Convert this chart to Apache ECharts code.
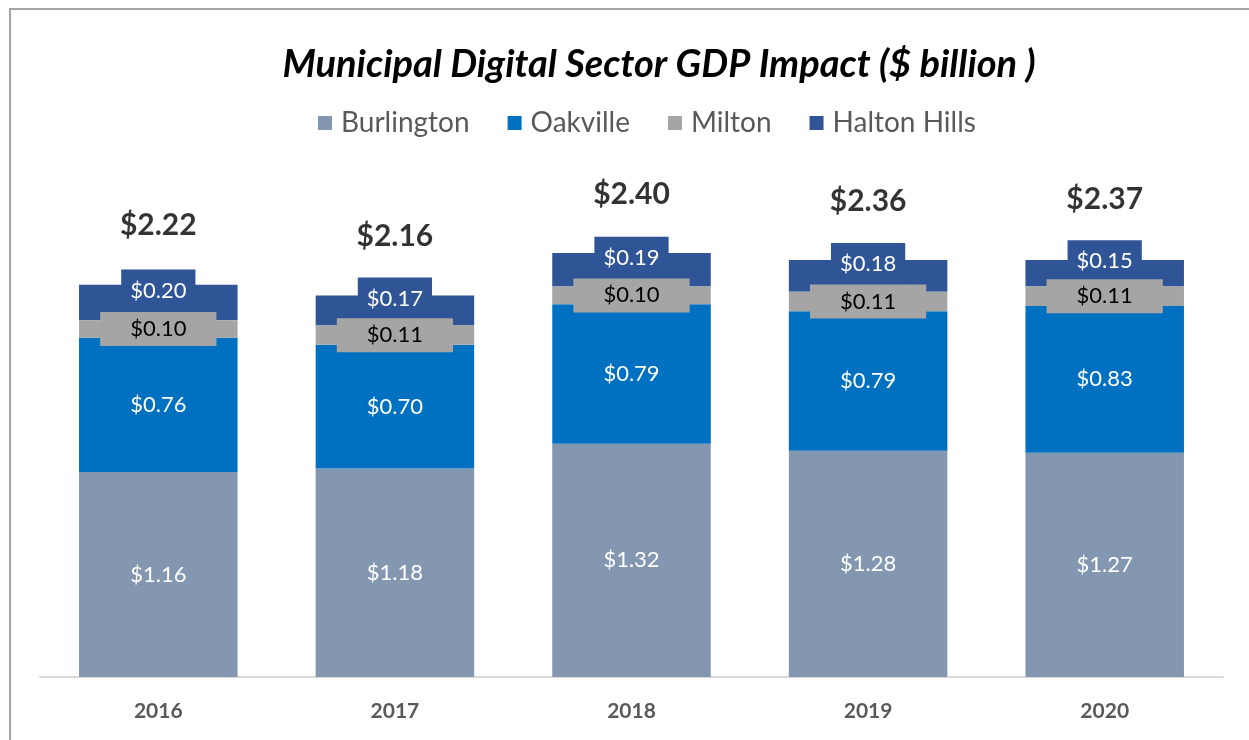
<!DOCTYPE html>
<html>
<head>
<meta charset="utf-8">
<script src="https://cdn.jsdelivr.net/npm/echarts@6/dist/echarts.min.js"></script>
<style>
html,body{margin:0;padding:0;background:#fff;}
#chart{width:1249px;height:740px;}
</style>
</head>
<body>
<div id="chart"></div>
<script>
const years = ['2016', '2017', '2018', '2019', '2020'];
const burlington = [1.16, 1.18, 1.32, 1.28, 1.27];
const oakville = [0.76, 0.70, 0.79, 0.79, 0.83];
const milton = [0.10, 0.11, 0.10, 0.11, 0.11];
const haltonHills = [0.20, 0.17, 0.19, 0.18, 0.15];
const totals = [2.22, 2.16, 2.40, 2.36, 2.37];

const FONT = 'Lato';
const fmt = p => '$' + Number(p.value).toFixed(2);

const chart = echarts.init(document.getElementById('chart'));
chart.setOption({
  animation: false,
  backgroundColor: '#ffffff',
  graphic: [{
    type: 'rect',
    shape: { x: 10, y: 9, width: 1400, height: 900 },
    style: { fill: 'none', stroke: '#a6a6a6', lineWidth: 2 },
    silent: true
  }],
  title: {
    text: 'Municipal Digital Sector GDP Impact ($ billion )',
    left: 654, top: 41, textAlign: 'center',
    textStyle: { fontFamily: FONT, fontSize: 38, fontWeight: 'bold', fontStyle: 'italic', color: '#000' }
  },
  legend: {
    data: ['Burlington', 'Oakville', 'Milton', 'Halton Hills'],
    top: 104, left: 313,
    itemWidth: 14, itemHeight: 14, itemGap: 38,
    icon: 'rect',
    textStyle: { fontFamily: FONT, fontSize: 28, color: '#595959', padding: [0, 0, 0, 4] }
  },
  grid: { left: 40, right: 26, top: 147, bottom: 63, containLabel: false },
  xAxis: {
    type: 'category', data: years,
    axisLine: { lineStyle: { color: '#d9d9d9', width: 2 } },
    axisTick: { show: false },
    axisLabel: { margin: 24, fontFamily: FONT, fontSize: 21, fontWeight: 'bold', color: '#595959' }
  },
  yAxis: { type: 'value', min: 0, max: 3, show: false, splitLine: { show: false } },
  series: [
    {
      name: 'Burlington', type: 'bar', stack: 'a', data: burlington, barWidth: '67%',
      itemStyle: { color: '#8497b0' },
      label: { show: true, position: 'inside', formatter: fmt, fontFamily: FONT, fontSize: 22, color: '#fff' }
    },
    {
      name: 'Oakville', type: 'bar', stack: 'a', data: oakville,
      itemStyle: { color: '#0070c0' },
      label: { show: true, position: 'inside', formatter: fmt, fontFamily: FONT, fontSize: 22, color: '#fff' }
    },
    {
      name: 'Milton', type: 'bar', stack: 'a', data: milton, z: 3,
      itemStyle: { color: '#a5a5a5' },
      label: { show: true, position: 'inside', formatter: fmt, fontFamily: FONT, fontSize: 22, lineHeight: 22,
        color: '#000', backgroundColor: '#a5a5a5', padding: [6, 30] }
    },
    {
      name: 'Halton Hills', type: 'bar', stack: 'a', data: haltonHills, z: 2,
      itemStyle: { color: '#2f5597' },
      label: { show: true, position: 'inside', offset: [0, -12], formatter: fmt, fontFamily: FONT, fontSize: 22, lineHeight: 22,
        color: '#fff', backgroundColor: '#2f5597', padding: [10, 9] }
    },
    {
      name: 'Total', type: 'scatter', data: totals, symbolSize: 0, z: 5,
      label: { show: true, position: 'top', distance: 44, formatter: fmt, fontFamily: FONT, fontSize: 30, fontWeight: 'bold', color: '#000' }
    }
  ]
});
</script>
</body>
</html>
